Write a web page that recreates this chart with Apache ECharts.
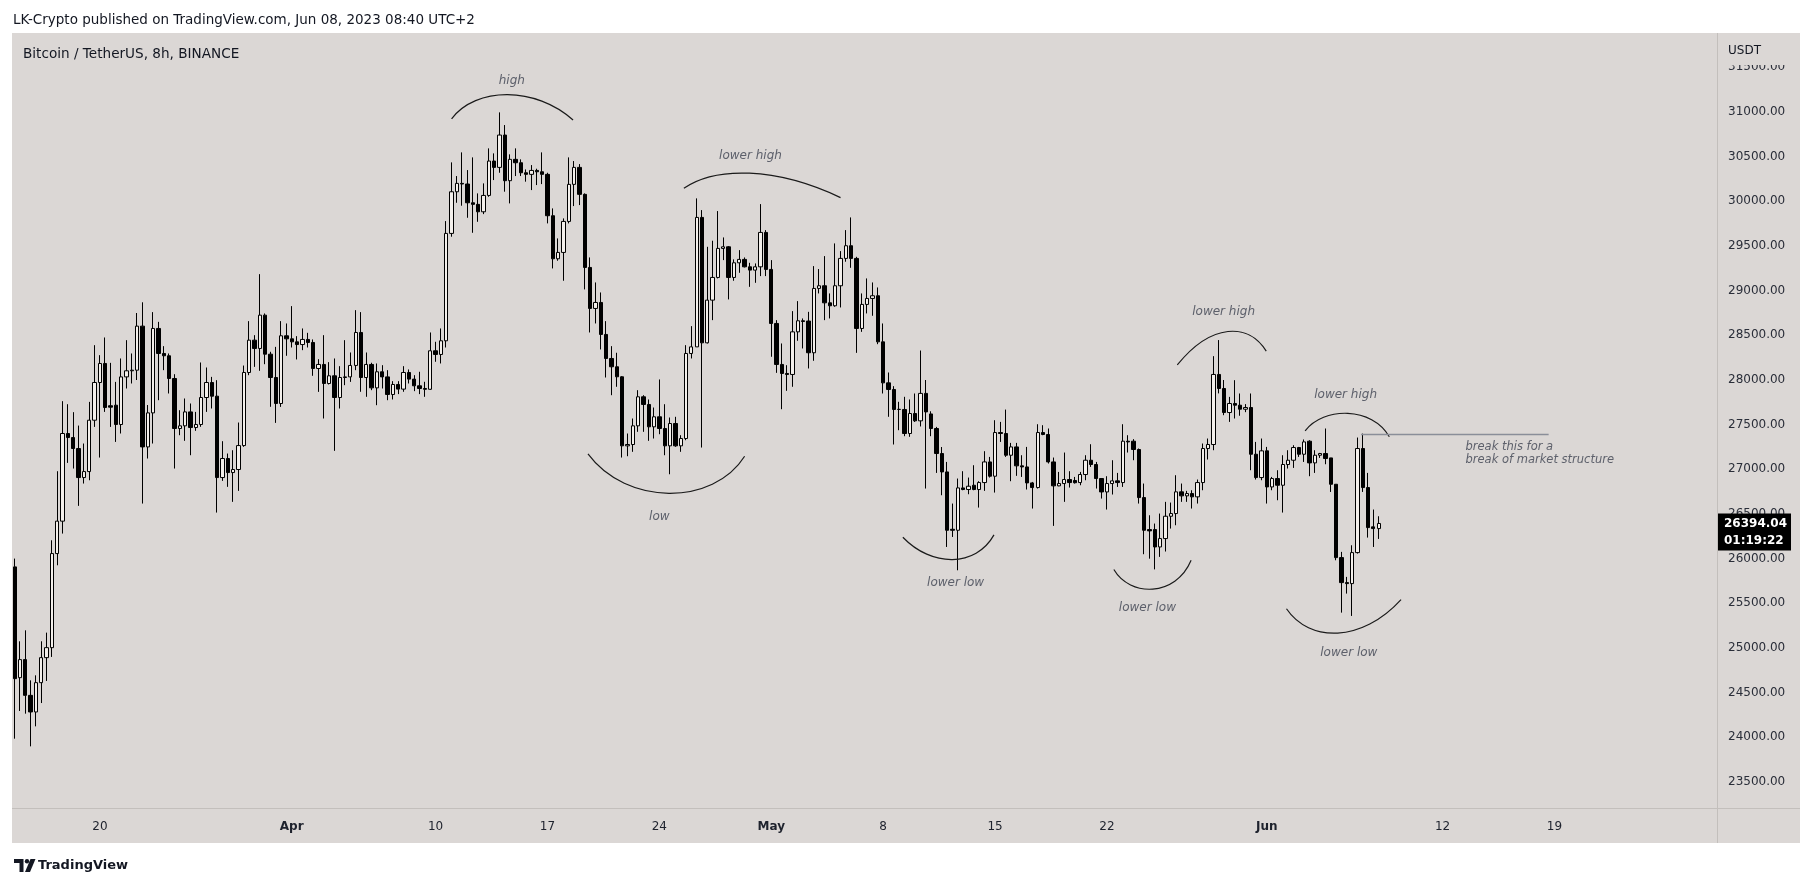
<!DOCTYPE html>
<html><head><meta charset="utf-8">
<script src="https://cdn.jsdelivr.net/npm/echarts/dist/echarts.min.js"></script>
<style>html,body{margin:0;padding:0;background:#fff;}#c{width:1811px;height:888px;}</style>
</head><body><div id="c"></div>
<script>
const openP = [25908,24668,24870,24470,24284,24612,24892,25004,26057,26420,27401,27356,27233,26908,26975,27550,27972,28185,27712,27718,27502,28035,28103,28110,28603,27251,27632,28577,28297,28271,28017,27457,27487,27643,27468,27502,27804,27972,27819,26908,27121,26964,26998,27266,28084,28446,28353,28726,28289,28028,27737,28495,28461,28427,28397,28454,28420,28129,28174,27961,28047,27804,28028,28035,28163,28532,28028,28174,27912,28092,28035,27838,27950,27898,28084,28010,27935,27905,27896,28327,28286,28439,29641,30107,30201,30194,29984,29966,29883,30066,30451,30380,30742,30231,30470,30432,30320,30302,30346,30331,30302,29839,29357,29428,29775,30190,30380,30078,29260,28801,28868,28510,28241,28148,28036,27263,27278,27487,27812,27726,27476,27588,27457,27263,27513,27263,27345,28297,28371,29820,28416,28894,29148,29473,29491,29148,29312,29350,29267,29230,29267,29652,29238,28633,28174,28073,28062,28539,28663,28660,28305,29025,29055,28864,28831,29055,29361,29503,29361,28577,28846,28913,28943,28427,27968,27894,27670,27670,27401,27625,27543,27850,27620,27457,27177,26971,26329,26318,26792,26774,26822,26774,26852,27083,26923,27412,27401,27158,27251,27039,27027,26848,26796,27412,27390,27083,26815,26841,26886,26875,26852,26942,27102,27054,26897,26747,26841,26871,26852,27315,27315,27222,26684,26326,26326,26131,26225,26475,26505,26748,26703,26729,26692,26852,27233,27278,28062,27905,27636,27737,27718,27673,27692,27169,26908,27207,26803,26897,26822,27054,27102,27244,27169,27315,27072,27158,27177,27128,26833,26012,25732,25721,26068,27233,26796,26356,26337];
const closeP = [24657,24870,24470,24284,24612,24892,25004,26057,26420,27401,27356,27233,26908,26975,27550,27972,28185,27692,27696,27502,28035,28103,28110,28603,27251,27632,28577,28297,28271,28017,27457,27487,27643,27468,27502,27804,27972,27819,26908,27121,26964,26998,27266,28084,28446,28353,28726,28289,28028,27737,28495,28461,28427,28397,28454,28420,28129,28174,27961,28047,27804,28028,28035,28163,28532,28028,28174,27912,28092,28035,27838,27950,27898,28084,28010,27935,27905,27896,28327,28286,28439,29641,30107,30201,30194,29984,29966,29883,30066,30451,30380,30742,30231,30470,30432,30320,30302,30346,30331,30302,29839,29357,29428,29775,30190,30380,30078,29260,28801,28868,28510,28241,28148,28036,27263,27278,27487,27812,27726,27476,27588,27457,27263,27513,27263,27345,28297,28371,29820,28416,28894,29148,29473,29491,29148,29312,29350,29267,29230,29267,29652,29238,28633,28174,28073,28062,28539,28663,28655,28305,29025,29055,28864,28831,29055,29361,29503,29361,28577,28846,28913,28943,28427,27968,27894,27670,27672,27401,27625,27543,27850,27643,27457,27177,26971,26318,26318,26792,26774,26811,26774,26852,27083,26923,27412,27401,27158,27251,27039,27027,26848,26796,27412,27390,27083,26815,26841,26886,26852,26850,26942,27102,27054,26897,26747,26841,26871,26852,27315,27307,27222,26684,26318,26311,26131,26225,26475,26505,26748,26703,26729,26692,26852,27233,27278,28062,27905,27636,27737,27718,27673,27692,27169,26908,27207,26803,26897,26822,27054,27102,27244,27169,27307,27072,27158,27177,27121,26833,26012,25732,25721,26068,27233,26796,26348,26337,26394.04];
const lowP = [23985,24295,24265,23899,24123,24384,24631,24900,25926,26281,27072,27009,26591,26841,26878,27475,27132,27643,27475,27307,27401,27905,27961,28000,26617,27121,27289,27774,28110,27849,27009,27382,27319,27158,27431,27476,27643,27681,26516,26871,26804,26636,26759,27252,28054,28147,28103,28177,27700,27520,27699,28271,28364,28230,28334,28364,28047,27867,27569,27950,27207,27681,27942,27979,28110,27868,27812,27886,27718,27905,27774,27782,27842,27868,27961,27875,27842,27812,27890,28204,28185,28364,29604,29984,29951,29816,29648,29771,29857,30051,30238,30320,30108,29977,30283,30283,30220,30126,30182,30193,29753,29249,29335,29111,29753,29947,29958,29014,28532,28633,28342,28028,27830,27924,27132,27147,27196,27420,27420,27319,27345,27393,27158,26945,27252,27196,27326,28241,28371,27244,28409,28670,29137,29342,28902,29111,29200,29260,29043,29088,29163,29163,28260,28080,27673,27879,27924,28439,28353,28129,28215,28969,28670,28689,28820,28812,29324,29256,28304,28539,28745,28719,28401,27849,27588,27278,27438,27371,27364,27530,27480,26785,27371,26960,26710,26131,26243,25870,26766,26721,26766,26572,26759,26908,26740,27307,27139,26867,26927,26915,26774,26561,26785,27382,27065,26367,26811,26636,26796,26841,26822,26878,27027,26785,26673,26550,26718,26803,26803,27188,27102,26617,26050,26000,25880,26020,26080,26337,26374,26636,26636,26561,26617,26766,27110,27214,27850,27606,27531,27569,27600,27640,26990,26886,26878,26617,26766,26654,26516,27009,27016,27139,27083,26923,26960,27128,27057,26747,25982,25396,25609,25359,26057,26747,26236,26131,26221];
const highP = [26001,25075,25198,24638,24694,25075,25172,26206,26979,27763,27729,27640,27490,27289,27755,28390,28278,28476,28192,27979,28241,28446,28297,28750,28870,27720,28760,28651,28379,28297,28065,27662,27793,27737,27643,28196,28140,28035,27998,27315,27177,27214,27524,28162,28659,28502,29185,28745,28316,28371,28659,28633,28827,28491,28577,28528,28454,28233,28502,28200,28241,28155,28446,28308,28782,28760,28308,28193,28185,28166,28110,27987,27987,28155,28118,28054,28092,27980,28532,28428,28577,29779,30436,30283,30548,30350,30492,30089,30201,30593,30537,30996,30854,30526,30593,30470,30357,30406,30365,30548,30320,29921,29585,29809,30492,30451,30417,30089,29372,29092,28980,28659,28379,28305,28043,27401,27569,27886,27830,27782,27692,28006,27729,27580,27588,27382,28390,28603,30033,29902,29491,29559,29891,29596,29499,29350,29454,29372,29312,29305,29969,29678,29342,28670,28409,28166,28771,28883,28689,28763,29275,29242,29387,28969,29529,29443,29678,29820,29379,28969,29137,29092,29036,28633,28084,27931,27756,27812,27782,27849,28330,28000,27650,27475,27250,27083,26617,26897,26979,26908,27046,26867,27203,27139,27550,27531,27669,27296,27296,27158,27251,26859,27505,27494,27457,27132,26971,27188,26979,26915,26971,27158,27281,27083,26897,26923,27102,26960,27505,27382,27338,27233,26841,26486,26393,26505,26636,26628,26934,26841,26759,26766,26886,27289,27345,28267,28447,28000,27811,27998,27849,27730,27849,27307,27345,27251,26915,26990,27158,27214,27270,27251,27334,27326,27214,27184,27457,27128,26833,26076,25796,26150,27356,27400,26960,26550,26475];

const slotCount = 320;                 // 8h slots incl. empty future space
const firstSlotUTC = Date.UTC(2023, 2, 14, 16);
const timeLabelIdx  = [16, 52, 79, 100, 121, 142, 163, 184, 205, 235, 268, 289];
const timeLabelText = ['20','Apr','10','17','24','May','8','15','22','Jun','12','19'];
const monthLabels = ['Apr','May','Jun'];
const lastPrice = 26394.04;
const countdown = '01:19:22';

const arcAnn = [
  {a:[82.0,30923], m:[92.5,31194], b:[104.8,30910]},
  {a:[125.6,30147], m:[137.9,30315], b:[155.0,30042]},
  {a:[107.6,27172], m:[122.8,26732], b:[137.0,27146]},
  {a:[166.7,26240], m:[176.0,25990], b:[183.8,26266]},
  {a:[206.3,25878], m:[213.6,25659], b:[220.8,25982]},
  {a:[218.2,28168], m:[227.7,28543], b:[234.9,28323]},
  {a:[242.2,27431], m:[250.2,27627], b:[258.0,27364]},
  {a:[238.7,25439], m:[248.3,25167], b:[260.2,25542]}
];
const textAnn = [
  {t:'high', k:93.3, p:31349},
  {t:'lower high', k:138.1, p:30508},
  {t:'low', k:121, p:26473},
  {t:'lower low', k:176.6, p:25724},
  {t:'lower low', k:212.6, p:25452},
  {t:'lower high', k:226.9, p:28762},
  {t:'lower high', k:249.8, p:27832},
  {t:'lower low', k:250.4, p:24948}
];
const noteLines = ['break this for a', 'break of market structure'];
const noteK = 272.3, notePrices = [27249, 27107];
const breakLevel = 27400, breakFromK = 252.7, breakToK = 287.9;

const categories = [];
for (let i = 0; i < slotCount; i++) {
  const d = new Date(firstSlotUTC + i * 8 * 3600 * 1000);
  categories.push(d.toISOString().slice(0, 16).replace('T', ' '));
}
const labelMap = {};
timeLabelIdx.forEach((k, i) => { labelMap[k] = timeLabelText[i]; });
const ohlc = openP.map((o, i) => [o, closeP[i], lowP[i], highP[i]]);

const FONT = '"DejaVu Sans", Verdana, sans-serif';
const PANEL = '#dbd7d5';
const chart = echarts.init(document.getElementById('c'), null, {renderer: 'canvas'});

chart.setOption({
  animation: false,
  backgroundColor: '#ffffff',
  grid: {left: 12, right: 94, top: 22.67, bottom: 61.33, containLabel: false, outerBoundsMode: 'none'},
  xAxis: {
    type: 'category', data: categories, boundaryGap: true,
    axisLine: {show: false}, axisTick: {show: false}, splitLine: {show: false},
    axisLabel: {
      interval: (i) => labelMap[i] !== undefined,
      formatter: (v, i) => {
        const t = labelMap[i];
        if (t === undefined) return '';
        return monthLabels.indexOf(t) >= 0 ? '{m|' + t + '}' : t;
      },
      margin: 0, verticalAlign: 'middle', color: '#1e222d', fontSize: 12, fontFamily: FONT,
      rich: {m: {fontWeight: 'bold', fontSize: 12, fontFamily: FONT, color: '#1e222d'}}
    }
  },
  yAxis: {
    type: 'value', position: 'right', min: 23000, max: 32000, interval: 500, scale: true,
    axisLine: {show: false}, axisTick: {show: false}, splitLine: {show: false},
    axisLabel: {
      formatter: (v) => (v === 23000 || v === 32000) ? '' : v.toFixed(2),
      margin: 11, color: '#2a2e39', fontSize: 12, fontFamily: FONT
    }
  },
  series: [{
    type: 'candlestick', data: ohlc, barWidth: 3.8,
    itemStyle: {color: '#f3efeb', color0: '#000000', borderColor: '#000000', borderColor0: '#000000', borderColorDoji: '#000000', borderWidth: 1},
    z: 5
  }]
});

const x0 = chart.convertToPixel({xAxisIndex: 0}, 0);
const x1 = chart.convertToPixel({xAxisIndex: 0}, 1);
const band = x1 - x0;
const P = (k, p) => [x0 + k * band, chart.convertToPixel({yAxisIndex: 0}, p)];

const g = [];
g.push({type: 'rect', shape: {x: 12, y: 33, width: 1788, height: 810}, style: {fill: PANEL}, z: -10, silent: true});
g.push({type: 'line', shape: {x1: 1717.5, y1: 33, x2: 1717.5, y2: 843}, style: {stroke: '#c3bfbc', lineWidth: 1}, z: -9});
g.push({type: 'line', shape: {x1: 12, y1: 808.5, x2: 1800, y2: 808.5}, style: {stroke: '#c3bfbc', lineWidth: 1}, z: -9});
g.push({type: 'text', x: 13, y: 20.5, style: {text: 'LK-Crypto published on TradingView.com, Jun 08, 2023 08:40 UTC+2', font: '13.5px ' + FONT, fill: '#131722', textVerticalAlign: 'middle'}, z: 50});
g.push({type: 'text', x: 23, y: 54, style: {text: 'Bitcoin / TetherUS, 8h, BINANCE', font: '13.6px ' + FONT, fill: '#131722', textVerticalAlign: 'middle'}, z: 50});
g.push({type: 'rect', shape: {x: 1718, y: 34, width: 81, height: 31}, style: {fill: PANEL}, z: 40});
g.push({type: 'text', x: 1728, y: 51, style: {text: 'USDT', font: '12px ' + FONT, fill: '#131722', textVerticalAlign: 'middle'}, z: 50});
g.push({type: 'polygon', shape: {points: [[14, 859], [23.5, 859], [23.5, 872], [19.5, 872], [19.5, 863], [14, 863]]}, style: {fill: '#131722'}, z: 50});
g.push({type: 'circle', shape: {cx: 27, cy: 861.2, r: 2.2}, style: {fill: '#131722'}, z: 50});
g.push({type: 'polygon', shape: {points: [[30.5, 859], [35.5, 859], [30, 872], [25, 872]]}, style: {fill: '#131722'}, z: 50});
g.push({type: 'text', x: 38, y: 866, style: {text: 'TradingView', font: 'bold 13px ' + FONT, fill: '#131722', textVerticalAlign: 'middle'}, z: 50});

arcAnn.forEach(a => {
  const [ax, ay] = P(a.a[0], a.a[1]);
  const [mx, my] = P(a.m[0], a.m[1]);
  const [bx, by] = P(a.b[0], a.b[1]);
  const w = bx - ax;
  const yc = (8 * my - ay - by) / 6;
  const d = (8 * mx - 4 * ax - 4 * bx) / 3;
  const e = 0.2 * w;
  g.push({type: 'bezierCurve', shape: {x1: ax, y1: ay, x2: bx, y2: by,
    cpx1: ax + e + Math.max(0, d), cpy1: yc, cpx2: bx - e - Math.max(0, -d), cpy2: yc},
    style: {stroke: '#1a1a1a', lineWidth: 1.2, fill: null}, z: 60});
});
textAnn.forEach(t => {
  const [x, y] = P(t.k, t.p);
  g.push({type: 'text', x: x, y: y, style: {text: t.t, font: 'italic 12px ' + FONT, fill: '#5d606b', textAlign: 'center', textVerticalAlign: 'middle'}, z: 60});
});
noteLines.forEach((s, i) => {
  const [x, y] = P(noteK, notePrices[i]);
  g.push({type: 'text', x: x, y: y, style: {text: s, font: 'italic 11.5px ' + FONT, fill: '#5d606b', textAlign: 'left', textVerticalAlign: 'middle'}, z: 60});
});
{
  const [lx1, ly] = P(breakFromK, breakLevel);
  const [lx2] = P(breakToK, breakLevel);
  g.push({type: 'line', shape: {x1: lx1, y1: Math.round(ly) + 0.5, x2: lx2, y2: Math.round(ly) + 0.5}, style: {stroke: '#8a8e99', lineWidth: 1.5}, z: 60});
}
{
  const yp = chart.convertToPixel({yAxisIndex: 0}, lastPrice);
  g.push({type: 'rect', shape: {x: 1718, y: yp - 10, width: 73, height: 37}, style: {fill: '#000000'}, z: 70});
  g.push({type: 'text', x: 1724, y: yp, style: {text: lastPrice.toFixed(2), font: 'bold 12px ' + FONT, fill: '#ffffff', textVerticalAlign: 'middle'}, z: 71});
  g.push({type: 'text', x: 1724, y: yp + 17, style: {text: countdown, font: 'bold 12px ' + FONT, fill: '#ffffff', textVerticalAlign: 'middle'}, z: 71});
}
chart.setOption({graphic: g});
</script>
</body></html>
